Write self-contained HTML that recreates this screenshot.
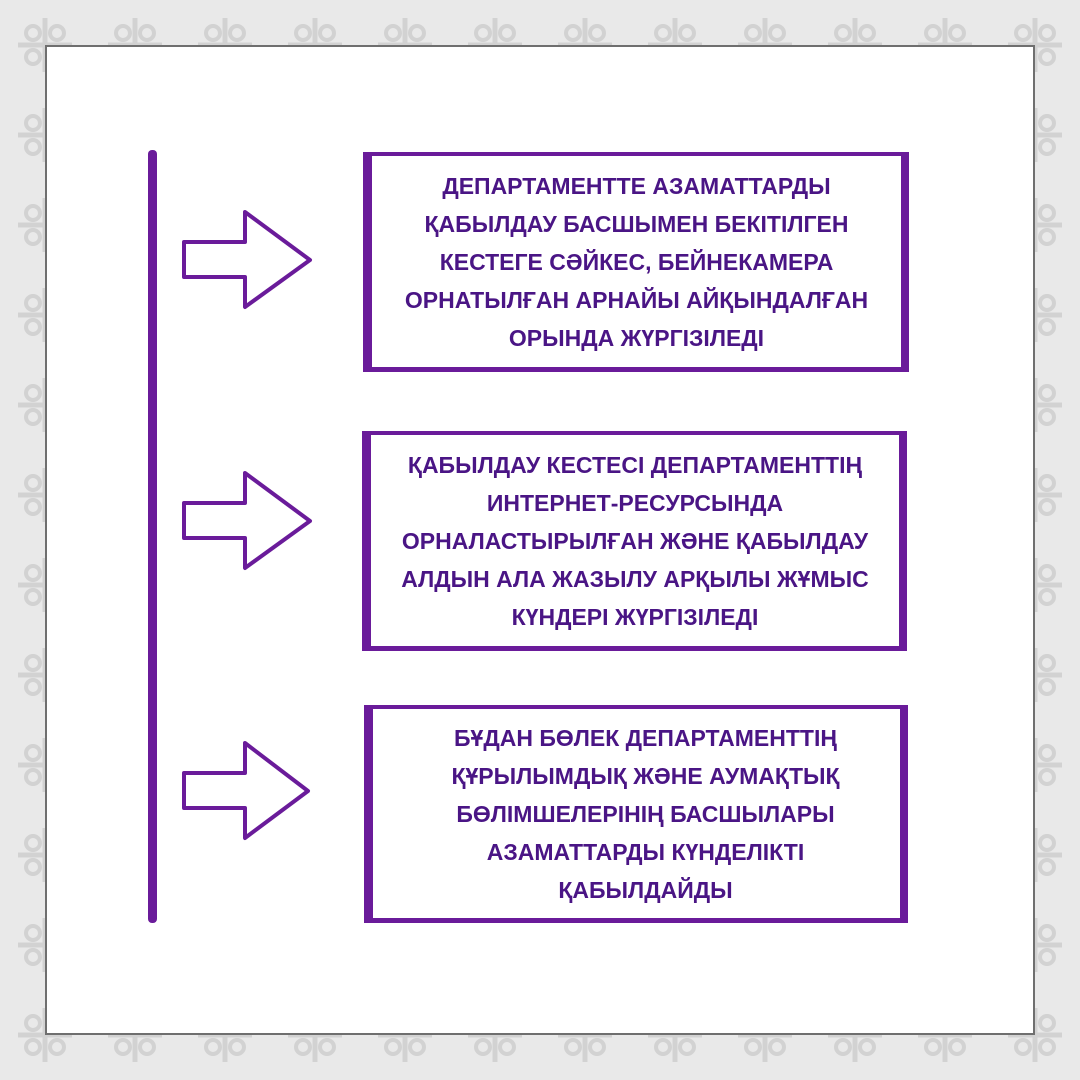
<!DOCTYPE html>
<html><head><meta charset="utf-8"><style>
html,body{margin:0;padding:0}
body{width:1080px;height:1080px;position:relative;overflow:hidden;background:#e9e9e9;font-family:"Liberation Sans","DejaVu Sans",sans-serif}
.bg{position:absolute;left:0;top:0}
.frame{position:absolute;left:45px;top:45px;width:986px;height:986px;background:#fff;border:2px solid #6f6f6f}
.vline{position:absolute;left:148px;top:150px;width:9px;height:773px;background:#6a1b9a;border-radius:4px}
.box{position:absolute;box-sizing:border-box;border-style:solid;border-color:#6a1b9a;border-width:4px 8px 5px 9px;background:#fff;display:flex;flex-direction:column;justify-content:center;align-items:center;text-align:center;color:#4a1585;font-weight:bold;font-size:23px;line-height:38px;white-space:nowrap}
svg.ar{position:absolute;left:0;top:0}
</style></head><body>
<svg class="bg" width="1080" height="1080">
<defs><pattern id="p" width="90" height="90" patternUnits="userSpaceOnUse">
<g fill="none" stroke="#d2d2d2" stroke-width="4">
<circle cx="33" cy="33" r="7"/><circle cx="57" cy="33" r="7"/><circle cx="33" cy="57" r="7"/><circle cx="57" cy="57" r="7"/>
</g>
<path d="M45 18 L45 72 M18 45 L72 45" stroke="#d2d2d2" stroke-width="5"/>
</pattern></defs>
<rect width="1080" height="1080" fill="url(#p)"/>
</svg>
<div class="frame"></div>
<div class="vline"></div>
<svg class="ar" width="1080" height="1080">
<g fill="#fff" stroke="#6a1b9a" stroke-width="4" stroke-linejoin="round">
<path d="M184 242 H245 V212 L310 260 L245 307 V277 H184 Z"/>
<path d="M184 503 H245 V473 L310 521 L245 568 V538 H184 Z"/>
<path d="M184 773 H245 V743 L308 791 L245 838 V808 H184 Z"/>
</g>
</svg>
<div class="box" style="left:363px;top:152px;width:546px;height:220px">
<div>ДЕПАРТАМЕНТТЕ АЗАМАТТАРДЫ</div><div>ҚАБЫЛДАУ БАСШЫМЕН БЕКІТІЛГЕН</div><div>КЕСТЕГЕ СӘЙКЕС, БЕЙНЕКАМЕРА</div><div>ОРНАТЫЛҒАН АРНАЙЫ АЙҚЫНДАЛҒАН</div><div>ОРЫНДА ЖҮРГІЗІЛЕДІ</div>
</div>
<div class="box" style="left:362px;top:431px;width:545px;height:220px">
<div>ҚАБЫЛДАУ КЕСТЕСІ ДЕПАРТАМЕНТТІҢ</div><div>ИНТЕРНЕТ-РЕСУРСЫНДА</div><div>ОРНАЛАСТЫРЫЛҒАН ЖӘНЕ ҚАБЫЛДАУ</div><div>АЛДЫН АЛА ЖАЗЫЛУ АРҚЫЛЫ ЖҰМЫС</div><div>КҮНДЕРІ ЖҮРГІЗІЛЕДІ</div>
</div>
<div class="box" style="left:364px;top:705px;width:544px;height:218px;padding-left:18px">
<div>БҰДАН БӨЛЕК ДЕПАРТАМЕНТТІҢ</div><div>ҚҰРЫЛЫМДЫҚ ЖӘНЕ АУМАҚТЫҚ</div><div>БӨЛІМШЕЛЕРІНІҢ БАСШЫЛАРЫ</div><div>АЗАМАТТАРДЫ КҮНДЕЛІКТІ</div><div>ҚАБЫЛДАЙДЫ</div>
</div>
</body></html>
